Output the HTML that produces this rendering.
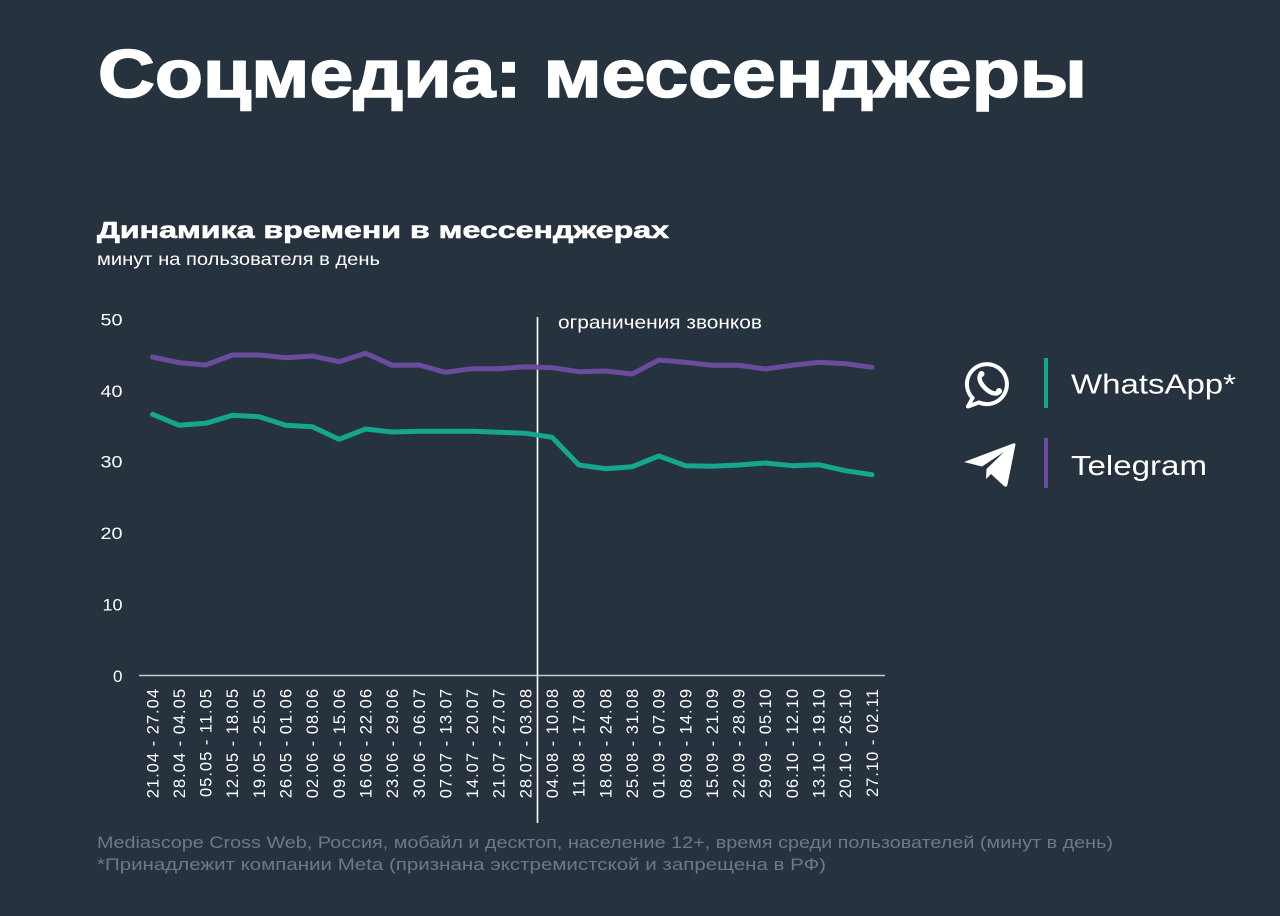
<!DOCTYPE html>
<html>
<head>
<meta charset="utf-8">
<style>
  html,body{margin:0;padding:0;background:#27323f;}
  body{width:1280px;height:916px;overflow:hidden;}
  svg{display:block;}
  text{font-family:"Liberation Sans","Noto Sans CJK SC",sans-serif;fill:#ffffff;}
</style>
</head>
<body>
<svg width="1280" height="916" viewBox="0 0 1280 916" xmlns="http://www.w3.org/2000/svg">
  <rect x="0" y="0" width="1280" height="916" fill="#27323f"/>

  <!-- Title -->
  <text x="98" y="97" font-size="68" font-weight="bold" stroke="#ffffff" stroke-width="1.6" textLength="989" lengthAdjust="spacingAndGlyphs">Соцмедиа: мессенджеры</text>

  <!-- Subtitle -->
  <text x="97" y="238" font-size="23.5" font-weight="bold" stroke="#ffffff" stroke-width="0.6" textLength="572" lengthAdjust="spacingAndGlyphs">Динамика времени в мессенджерах</text>
  <text x="97" y="265" font-size="17.5" textLength="283" lengthAdjust="spacingAndGlyphs">минут на пользователя в день</text>

  <!-- Y tick labels -->
  <g font-size="17" text-anchor="end">
    <text x="122.5" y="325.5" textLength="22" lengthAdjust="spacingAndGlyphs">50</text>
    <text x="122.5" y="397" textLength="22" lengthAdjust="spacingAndGlyphs">40</text>
    <text x="122.5" y="467.5" textLength="22" lengthAdjust="spacingAndGlyphs">30</text>
    <text x="122.5" y="539" textLength="22" lengthAdjust="spacingAndGlyphs">20</text>
    <text x="122.5" y="610.5" textLength="20" lengthAdjust="spacingAndGlyphs">10</text>
    <text x="122.5" y="682">0</text>
  </g>

  <!-- Axis baseline -->
  <line x1="139" y1="675.5" x2="885" y2="675.5" stroke="#c5c9cf" stroke-width="1.5"/>

  <!-- Vertical marker -->
  <line x1="537.5" y1="317" x2="537.5" y2="823" stroke="#ffffff" stroke-width="1.6"/>
  <text x="558" y="328.5" font-size="18" textLength="204" lengthAdjust="spacingAndGlyphs">ограничения звонков</text>

  <!-- Telegram series -->
  <polyline fill="none" stroke="#6a4b9c" stroke-width="5" stroke-linejoin="round" stroke-linecap="round"
    points="152.5,357 179.1,362.7 205.8,365 232.4,355 259.1,355 285.7,357.7 312.4,356 339,361.7 365.7,353.3 392.3,365.3 419,365 445.6,372.3 472.3,368.7 498.9,368.7 525.6,366.7 552.2,367.7 578.9,371.7 605.5,371 632.2,374 658.8,360 685.5,362.3 712.1,365.3 738.8,365.3 765.4,369 792.1,365.3 818.7,362.3 845.4,363.7 872,367.3"/>

  <!-- WhatsApp series -->
  <polyline fill="none" stroke="#14a78d" stroke-width="5" stroke-linejoin="round" stroke-linecap="round"
    points="152.5,414.3 179.1,425.3 205.8,423.3 232.4,415.3 259.1,416.7 285.7,425.3 312.4,426.7 339,439.3 365.7,429 392.3,432 419,431.3 445.6,431.3 472.3,431.3 498.9,432.3 525.6,433.3 552.2,437.3 578.9,465 605.5,468.7 632.2,466.7 658.8,456 685.5,465.7 712.1,466.3 738.8,465 765.4,463 792.1,465.7 818.7,464.7 845.4,470.7 872,474.7"/>

  <!-- X labels -->
  <g font-size="16.5" text-anchor="end" letter-spacing="1">
    <text transform="translate(158.3,688) rotate(-90)">21.04 - 27.04</text>
    <text transform="translate(184.9,688) rotate(-90)">28.04 - 04.05</text>
    <text transform="translate(211.6,688) rotate(-90)">05.05 - 11.05</text>
    <text transform="translate(238.2,688) rotate(-90)">12.05 - 18.05</text>
    <text transform="translate(264.9,688) rotate(-90)">19.05 - 25.05</text>
    <text transform="translate(291.5,688) rotate(-90)">26.05 - 01.06</text>
    <text transform="translate(318.2,688) rotate(-90)">02.06 - 08.06</text>
    <text transform="translate(344.8,688) rotate(-90)">09.06 - 15.06</text>
    <text transform="translate(371.5,688) rotate(-90)">16.06 - 22.06</text>
    <text transform="translate(398.1,688) rotate(-90)">23.06 - 29.06</text>
    <text transform="translate(424.8,688) rotate(-90)">30.06 - 06.07</text>
    <text transform="translate(451.4,688) rotate(-90)">07.07 - 13.07</text>
    <text transform="translate(478.1,688) rotate(-90)">14.07 - 20.07</text>
    <text transform="translate(504.7,688) rotate(-90)">21.07 - 27.07</text>
    <text transform="translate(531.4,688) rotate(-90)">28.07 - 03.08</text>
    <text transform="translate(558,688) rotate(-90)">04.08 - 10.08</text>
    <text transform="translate(584.7,688) rotate(-90)">11.08 - 17.08</text>
    <text transform="translate(611.3,688) rotate(-90)">18.08 - 24.08</text>
    <text transform="translate(638,688) rotate(-90)">25.08 - 31.08</text>
    <text transform="translate(664.6,688) rotate(-90)">01.09 - 07.09</text>
    <text transform="translate(691.3,688) rotate(-90)">08.09 - 14.09</text>
    <text transform="translate(717.9,688) rotate(-90)">15.09 - 21.09</text>
    <text transform="translate(744.6,688) rotate(-90)">22.09 - 28.09</text>
    <text transform="translate(771.2,688) rotate(-90)">29.09 - 05.10</text>
    <text transform="translate(797.9,688) rotate(-90)">06.10 - 12.10</text>
    <text transform="translate(824.5,688) rotate(-90)">13.10 - 19.10</text>
    <text transform="translate(851.2,688) rotate(-90)">20.10 - 26.10</text>
    <text transform="translate(877.8,688) rotate(-90)">27.10 - 02.11</text>
  </g>

  <!-- Legend: WhatsApp -->
  <g fill="none" stroke="#ffffff" stroke-width="4" stroke-linecap="round" stroke-linejoin="round">
    <path d="M972.5,398 A20,20 0 1 1 979,402.5"/>
    <path d="M972.5,398 L968,406.5 L979,402.5"/>
    <path d="M981.5,373.5 c-3,2.5 -3,8 3.5,14.5 c6.5,6.5 12,6.5 14.5,3.5" stroke-width="4.5"/>
  </g>
  <circle cx="981.5" cy="374" r="3" fill="#ffffff"/>
  <circle cx="999" cy="391" r="3" fill="#ffffff"/>
  <rect x="1044" y="358" width="4" height="50" fill="#14a78d"/>
  <text x="1071" y="393.5" font-size="28" textLength="165" lengthAdjust="spacingAndGlyphs">WhatsApp*</text>

  <!-- Legend: Telegram -->
  <path d="M964,462 L1013,443.5 Q1016,442.5 1015.3,445.5 L1007.5,484.5 Q1006.5,488 1004,486 L991,474 L986,479 L986.5,469 L1004,452 L982,466.5 Z" fill="#ffffff"/>
  <rect x="1044" y="438" width="4" height="50" fill="#6a4b9c"/>
  <text x="1071" y="475" font-size="28" textLength="136" lengthAdjust="spacingAndGlyphs">Telegram</text>

  <!-- Footnote -->
  <g font-size="17">
    <text x="97" y="848" textLength="1016" lengthAdjust="spacingAndGlyphs" style="fill:#6f7886">Mediascope Cross Web, Россия, мобайл и десктоп, население 12+, время среди пользователей (минут в день)</text>
    <text x="97" y="870" textLength="729" lengthAdjust="spacingAndGlyphs" style="fill:#6f7886">*Принадлежит компании Meta (признана экстремистской и запрещена в РФ)</text>
  </g>
</svg>
</body>
</html>
